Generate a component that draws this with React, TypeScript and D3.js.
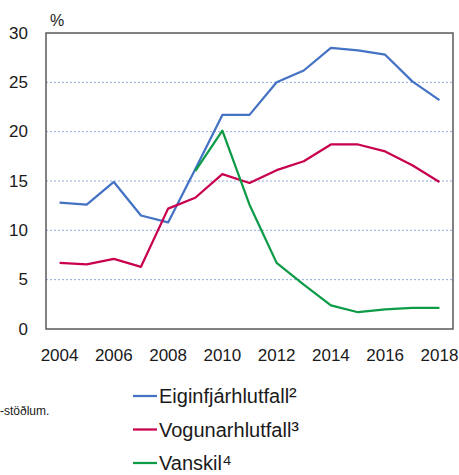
import React from 'react';
import * as d3 from 'd3';

const years = [2004, 2005, 2006, 2007, 2008, 2009, 2010, 2011, 2012, 2013, 2014, 2015, 2016, 2017, 2018];
const eiginfjar = [12.8, 12.6, 14.9, 11.5, 10.8, 16.2, 21.7, 21.7, 25.0, 26.2, 28.5, 28.25, 27.8, 25.1, 23.2];
const vogun = [6.7, 6.55, 7.1, 6.3, 12.2, 13.3, 15.7, 14.8, 16.1, 17.0, 18.7, 18.7, 18.0, 16.6, 14.9];
const vanskil = [null, null, null, null, null, 16.0, 20.1, 12.6, 6.7, 4.5, 2.4, 1.7, 2.0, 2.15, 2.15];
const yTicks = [0, 5, 10, 15, 20, 25, 30];
const xTicks = [2004, 2006, 2008, 2010, 2012, 2014, 2016, 2018];
const seriesNames = ['Eiginfjárhlutfall', 'Vogunarhlutfall', 'Vanskil'];
const seriesNotes = ['²', '³', '⁴'];
const colors = ['#4472c4', '#c8004e', '#0d9b48'];

const W = 459;
const H = 475;
const frame = { left: 46, right: 453, top: 33, bottom: 329 };
const font = '"Liberation Sans", Arial, sans-serif';

const App: React.FC = () => {
    const x = d3.scalePoint<number>().domain(years).range([frame.left, frame.right]).padding(0.5);
    const y = d3.scaleLinear().domain([0, 30]).range([frame.bottom, frame.top]);

    const line = d3
        .line<number | null>()
        .defined((d) => d !== null)
        .x((_, i) => x(years[i]) as number)
        .y((d) => y(d as number));

    const series = [eiginfjar, vogun, vanskil];

    return (
        <svg width={W} height={H} style={{ position: 'absolute', left: 0, top: 0, background: '#fff' }}>
            {yTicks
                .filter((t) => t > 0 && t < 30)
                .map((t) => (
                    <line
                        key={'g' + t}
                        x1={frame.left}
                        x2={frame.right}
                        y1={y(t)}
                        y2={y(t)}
                        stroke="#8eaadb"
                        strokeWidth={1}
                        strokeDasharray="2 2"
                    />
                ))}
            {yTicks.map((t) => (
                <text
                    key={'y' + t}
                    x={28}
                    y={y(t)}
                    textAnchor="end"
                    dominantBaseline="central"
                    fontFamily={font}
                    fontSize={17}
                    fill="#1a1a1a"
                >
                    {t}
                </text>
            ))}
            <text x={50} y={26} fontFamily={font} fontSize={16} fill="#1a1a1a">
                %
            </text>
            {xTicks.map((t) => (
                <text
                    key={'x' + t}
                    x={x(t)}
                    y={355}
                    textAnchor="middle"
                    dominantBaseline="central"
                    fontFamily={font}
                    fontSize={17}
                    fill="#1a1a1a"
                >
                    {t}
                </text>
            ))}
            {series.map((s, i) => (
                <path
                    key={'s' + i}
                    d={line(s) || ''}
                    fill="none"
                    stroke={colors[i]}
                    strokeWidth={2.25}
                    strokeLinejoin="round"
                />
            ))}
            <rect
                x={frame.left}
                y={frame.top}
                width={frame.right - frame.left}
                height={frame.bottom - frame.top}
                fill="none"
                stroke="#595959"
                strokeWidth={1.5}
            />
            {seriesNames.map((name, i) => {
                const ly = 396 + i * 33.5;
                return (
                    <g key={'l' + i}>
                        <line x1={133} x2={157} y1={ly} y2={ly} stroke={colors[i]} strokeWidth={2.25} />
                        <text
                            x={159}
                            y={ly + 7}
                            fontFamily={font}
                            fontSize={20}
                            fill="#1a1a1a"
                        >
                            {name}
                            <tspan fontSize={23}>{seriesNotes[i]}</tspan>
                        </text>
                    </g>
                );
            })}
            <text x={0} y={415} fontFamily={font} fontSize={12} fill="#1a1a1a">
                -stöðlum.
            </text>
        </svg>
    );
};

export default App;
